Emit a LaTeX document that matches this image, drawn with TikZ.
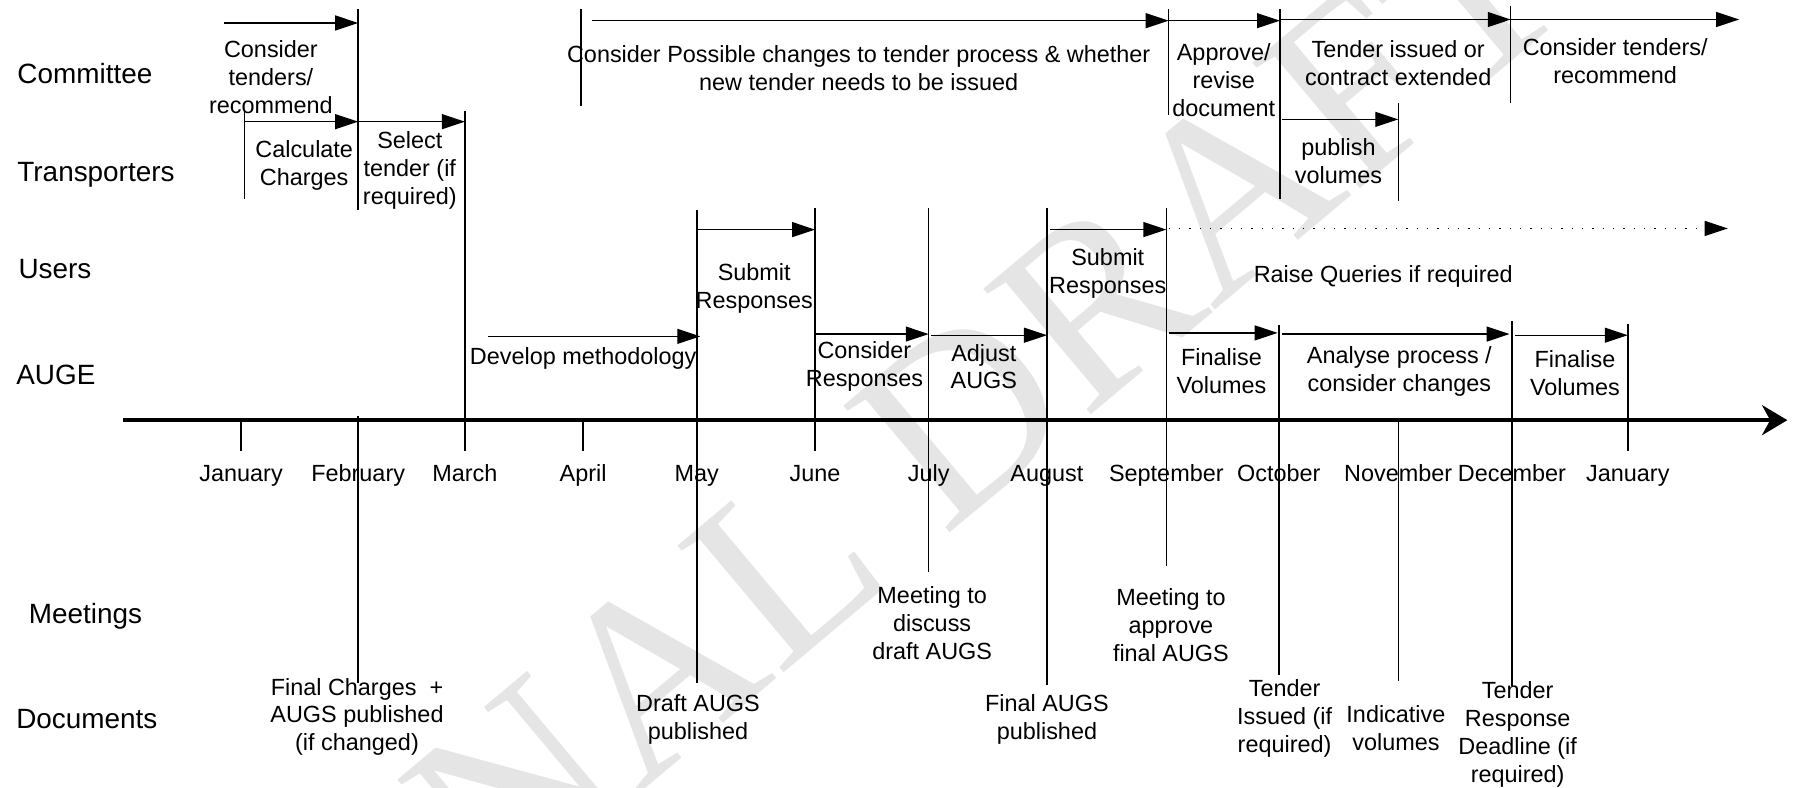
\documentclass[tikz,border=0pt]{standalone}
\usepackage{fontspec}
\setmainfont{Liberation Sans}
\newfontfamily\wmfont{Liberation Serif}
\usetikzlibrary{arrows.meta}
\begin{document}
\begin{tikzpicture}[x=1pt,y=-1pt,
  lbl/.style={font=\fontsize{20.4}{24.3}\selectfont, align=center, inner sep=0pt, anchor=north},
  mon/.style={font=\fontsize{20.4}{24.3}\selectfont, inner sep=0pt, anchor=base},
  rowlbl/.style={font=\fontsize{24.3}{29}\selectfont, anchor=base west, inner sep=0pt},
  vl/.style={line width=1.2pt},
  arr/.style={line width=1.2pt, -{Triangle[length=20pt,width=13pt]}},
  dotarr/.style={line width=1.2pt, dash pattern=on 1.2pt off 7.8pt, -{Triangle[length=20pt,width=13pt]}},
  axis/.style={line width=4pt, -{Stealth[length=22pt,width=26pt,inset=7pt]}},
]
\useasboundingbox (0,0) rectangle (1568,686);

% watermark
\node[rotate=40, anchor=base, text=gray!20, font=\wmfont\fontsize{220}{220}\selectfont, inner sep=0pt] (wm) at (830,462) {FINAL DRAFT};

% row labels
\node[rowlbl] (committee) at (15,72.5) {Committee};
\node[rowlbl] (transporters) at (15,158.5) {Transporters};
\node[rowlbl] (users) at (16,242.5) {Users};
\node[rowlbl] (auge) at (14,334.5) {AUGE};
\node[rowlbl] (meetings) at (25,543.5) {Meetings};
\node[rowlbl] (documents) at (14,634.5) {Documents};

% axis
\coordinate (ax0) at (107,366);
\coordinate (ax1) at (1557,366);
\draw[axis] (ax0) -- (ax1);

% month labels
\node[mon] (jan) at (210,419.5) {January};
\node[mon] (feb) at (312,419.5) {February};
\node[mon] (mar) at (405,419.5) {March};
\node[mon] (apr) at (508,419.5) {April};
\node[mon] (may) at (607,419.5) {May};
\node[mon] (jun) at (710,419.5) {June};
\node[mon] (jul) at (809,419.5) {July};
\node[mon] (aug) at (912,419.5) {August};
\node[mon] (sep) at (1016,419.5) {September};
\node[mon] (oct) at (1114,419.5) {October};
\node[mon] (nov) at (1218,419.5) {November};
\node[mon] (dec) at (1317,419.5) {December};
\node[mon] (jan2) at (1418,419.5) {January};

% vertical lines
\draw[vl] (210,366) -- (210,393);
\draw[vl] (508,366) -- (508,393);
\draw[vl] (312,8) -- (312,183);
\draw[vl] (213,97) -- (213,173);
\draw[vl] (405,97) -- (405,393);
\draw[vl] (506,8) -- (506,92);
\draw[vl] (1018,8) -- (1018,100);
\draw[vl] (1115,8) -- (1115,173);
\draw[vl] (1316,5) -- (1316,90);
\draw[vl] (1218,90) -- (1218,175);
\draw[vl] (607,183) -- (607,595);
\draw[vl] (710,181) -- (710,393);
\draw[vl] (809,181) -- (809,498);
\draw[vl] (912,181) -- (912,597);
\draw[vl] (1016,181) -- (1016,493);
\draw[vl] (1114,283) -- (1114,588);
\draw[vl] (1317,280) -- (1317,598);
\draw[vl] (1418,282) -- (1418,393);
\draw[vl] (312,362) -- (312,595);
\draw[vl] (1218,366) -- (1218,593);

% arrows
\draw[arr] (195,20) -- (312,20);
\draw[arr] (213,106) -- (312,106);
\draw[arr] (312,106) -- (405,106);
\draw[arr] (516,18) -- (1018,18);
\draw[arr] (1018,18) -- (1115,18);
\draw[arr] (1115,17) -- (1316,17);
\draw[arr] (1316,17) -- (1515,17);
\draw[arr] (1117,104) -- (1218,104);
\draw[arr] (607,200) -- (710,200);
\draw[arr] (915,200) -- (1016,200);
\draw[dotarr] (1018,199) -- (1505,199);
\draw[arr] (425,293) -- (610,293);
\draw[arr] (710,291) -- (809,291);
\draw[arr] (811,292) -- (912,292);
\draw[arr] (1018,290) -- (1113,290);
\draw[arr] (1117,291) -- (1315,291);
\draw[arr] (1320,292) -- (1418,292);

% activity texts (north anchor = first line centre - 7.5)
\node[lbl] (t1) at (236,35.5) {Consider\\tenders/\\recommend};
\node[lbl] (t2) at (265,122.5) {Calculate\\Charges};
\node[lbl] (t3) at (357,114.5) {Select\\tender (if\\required)};
\node[lbl] (t4) at (748,39.5) {Consider Possible changes to tender process \& whether\\new tender needs to be issued};
\node[lbl] (t5) at (1066,37.5) {Approve/\\revise\\document};
\node[lbl] (t6) at (1218,35.5) {Tender issued or\\contract extended};
\node[lbl] (t7) at (1407,33.5) {Consider tenders/\\recommend};
\node[lbl] (t8) at (1166,120.5) {publish\\volumes};
\node[lbl] (t9) at (657,229.5) {Submit\\Responses};
\node[lbl] (t10) at (965,216.5) {Submit\\Responses};
\node[lbl] (t11) at (1205,231.5) {Raise Queries if required};
\node[lbl] (t12) at (508,302.5) {Develop methodology};
\node[lbl] (t13) at (753,297.5) {Consider\\Responses};
\node[lbl] (t14) at (857,299.5) {Adjust\\AUGS};
\node[lbl] (t15) at (1064,303.5) {Finalise\\Volumes};
\node[lbl] (t16) at (1219,301.5) {Analyse process /\\consider changes};
\node[lbl] (t17) at (1372,305.5) {Finalise\\Volumes};

% meetings and documents
\node[lbl] (d1) at (311,590.5) {Final Charges\ \ +\\AUGS published\\(if changed)};
\node[lbl] (d2) at (608,604.5) {Draft AUGS\\published};
\node[lbl] (m1) at (812,510.5) {Meeting to\\discuss\\draft AUGS};
\node[lbl] (d3) at (912,604.5) {Final AUGS\\published};
\node[lbl] (m2) at (1020,512.5) {Meeting to\\approve\\final AUGS};
\node[lbl] (d4) at (1119,591.5) {Tender\\Issued (if\\required)};
\node[lbl] (d5) at (1216,614.5) {Indicative\\volumes};
\node[lbl] (d6) at (1322,593.5) {Tender\\Response\\Deadline (if\\required)};
\end{tikzpicture}
\end{document}
